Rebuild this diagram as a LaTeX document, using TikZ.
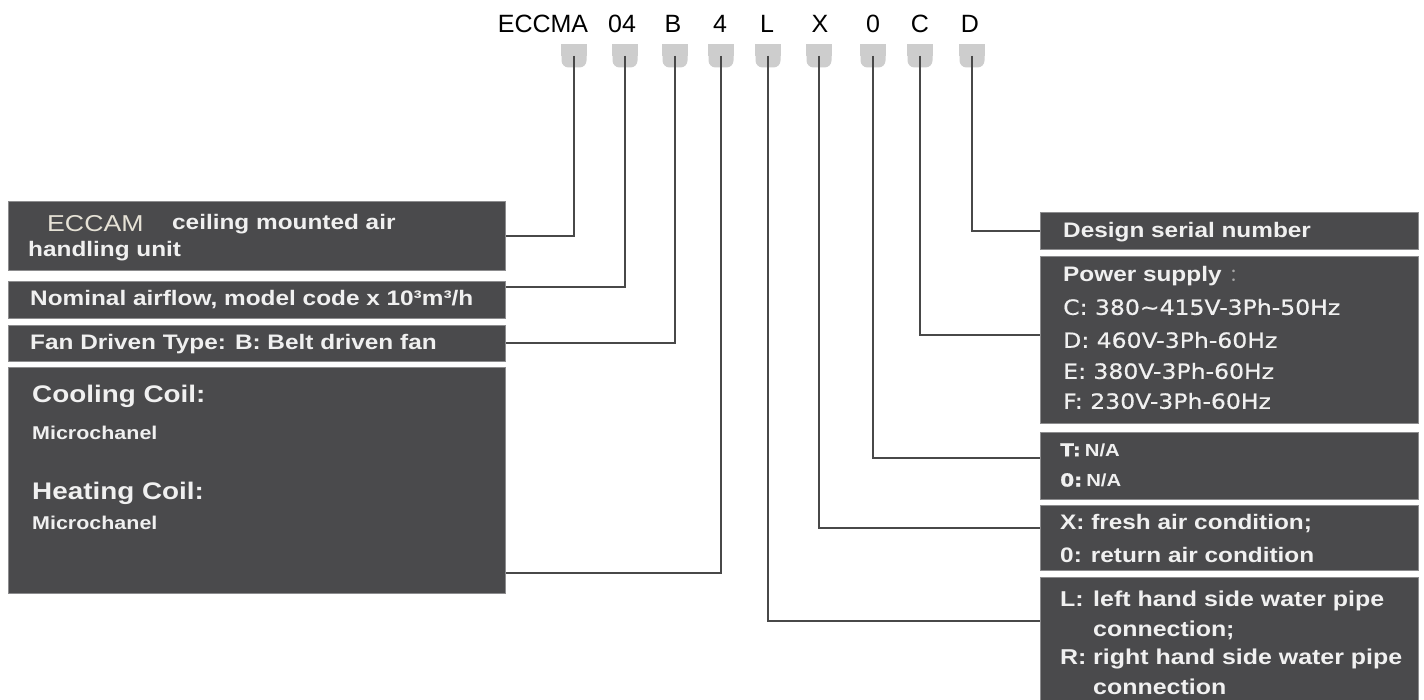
\documentclass[tikz,border=0pt]{standalone}
\usepackage{fontspec}
\setmainfont{Liberation Sans}
\newfontfamily\widefont{Liberation Sans}[FakeStretch=1.16]
\newfontfamily\vfont{DejaVu Sans}[FakeStretch=1.12, FakeBold=0.6]
\newfontfamily\cjkfont{Noto Sans CJK SC}
\definecolor{boxfill}{HTML}{4A4A4C}
\definecolor{boxedge}{HTML}{8C8C8E}
\definecolor{tabgray}{HTML}{CDCDCD}
\definecolor{wiregray}{HTML}{484848}
\definecolor{eccam}{HTML}{E6E2D6}

\tikzset{
  infobox/.style={draw=boxedge, line width=0.8pt, fill=boxfill, anchor=north west, inner sep=0pt},
  txt/.style={anchor=west, text=white!94!black, inner sep=0pt, font=\widefont\bfseries\fontsize{21}{24}\selectfont},
  tab/.style={fill=tabgray, minimum width=25, minimum height=23, inner sep=0pt, rounded corners=7pt},
  wire/.style={draw=wiregray, line width=2pt},
}

\begin{document}
\begin{tikzpicture}[x=1pt,y=-1pt]
  \useasboundingbox (0,0) rectangle (1424,700);

  % code letters and tabs
  \foreach \name/\position/\entry/\tabx in {cEccma/543/{ECCMA}/574,cFlow/622/{04}/625,cFan/673/{B}/675,cCoil/720/{4}/721,cPipe/767/{L}/768,cAir/820/{X}/819,cT/873/{0}/873,cPower/920/{C}/920,cSerial/970/{D}/972}{
    \node[font=\fontsize{25}{28}\selectfont, inner sep=0pt] (\name) at (\position,24) {\entry};
    \node[tab] (t\name) at (\tabx,56) {};
    \fill[tabgray] (t\name.north west) rectangle (t\name.east);
  }

  % left boxes
  \node[infobox, minimum width=497, minimum height=69] (bUnit) at (8,201) {};
  \node[infobox, minimum width=497, minimum height=37] (bFlow) at (8,281) {};
  \node[infobox, minimum width=497, minimum height=36] (bFan) at (8,325) {};
  \node[infobox, minimum width=497, minimum height=226] (bCoil) at (8,367) {};

  \node[txt, font=\widefont\fontsize{23}{26}\selectfont, text=eccam] (lEccam) at (47,224) {ECCAM};
  \node[txt] (lCeiling) at (172,224) {ceiling mounted air};
  \node[txt] (lHandling) at (28,251) {handling unit};
  \node[txt] (lFlow) at (30,300) {Nominal airflow, model code x 10³m³/h};
  \node[txt] (lFan) at (30,344) {Fan Driven Type: B: Belt driven fan};
  \node[txt, font=\widefont\bfseries\fontsize{24}{28}\selectfont] (lCool) at (32,396) {Cooling Coil:};
  \node[txt, font=\widefont\bfseries\fontsize{18.5}{20}\selectfont] (lCoolType) at (32,433) {Microchanel};
  \node[txt, font=\widefont\bfseries\fontsize{24}{28}\selectfont] (lHeat) at (32,493) {Heating Coil:};
  \node[txt, font=\widefont\bfseries\fontsize{18.5}{20}\selectfont] (lHeatType) at (32,523) {Microchanel};

  % right boxes
  \node[infobox, minimum width=378, minimum height=37] (bSerial) at (1040,212) {};
  \node[infobox, minimum width=378, minimum height=167] (bPower) at (1040,256) {};
  \node[infobox, minimum width=378, minimum height=67] (bT) at (1040,432) {};
  \node[infobox, minimum width=378, minimum height=65] (bAir) at (1040,505) {};
  \node[infobox, minimum width=378, minimum height=125] (bPipe) at (1040,577) {};

  \node[txt] (lSerial) at (1063,232) {Design serial number};
  \node[txt] (lPower) at (1063,276) {Power supply\,{\cjkfont\mdseries\fontsize{18}{20}\selectfont\color{gray!70}\hspace{4pt}：}};
  \foreach \name/\position/\entry in {lC/307/{C: 380\textasciitilde415V-3Ph-50Hz},lD/340/{D: 460V-3Ph-60Hz},lE/371/{E: 380V-3Ph-60Hz},lF/401/{F: 230V-3Ph-60Hz}}
    \node[txt, font=\vfont\fontsize{21}{24}\selectfont] (\name) at (1063,\position) {\entry};
  \node[txt, font=\vfont\bfseries\fontsize{18}{22}\selectfont] (lTT) at (1060,450) {T:\hspace{4pt}{\widefont\fontsize{17.5}{18}\selectfont N/A}};
  \node[txt, font=\vfont\bfseries\fontsize{18}{22}\selectfont] (lTZ) at (1060,480) {0:\hspace{4pt}{\widefont\fontsize{17.5}{18}\selectfont N/A}};
  \node[txt] (lAirX) at (1060,524) {X: fresh air condition;};
  \node[txt] (lAirZ) at (1060,555) {0: return air condition};
  \foreach \name/\position/\entry in {lPipeL/601/{\makebox[33pt][l]{L:}left hand side water pipe},lPipeLc/630/{\hspace*{33pt}connection;},lPipeR/659/{\makebox[33pt][l]{R:}right hand side water pipe},lPipeRc/687/{\hspace*{33pt}connection}}
    \node[txt, font=\widefont\bfseries\fontsize{21.5}{26}\selectfont] (\name) at (1060,\position) {\entry};

  % connectors
  \draw[wire] (tcEccma.center) |- (bUnit.east);
  \draw[wire] (tcFlow.center) |- ([yshift=12.5pt]bFlow.east);
  \draw[wire] (tcFan.center) |- (bFan.east);
  \draw[wire] (tcCoil.center) |- ([yshift=21pt]bCoil.south east);
  \draw[wire] (tcPipe.center) |- ([yshift=19pt]bPipe.west);
  \draw[wire] (tcAir.center) |- ([yshift=9.5pt]bAir.west);
  \draw[wire] (tcT.center) |- ([yshift=7.5pt]bT.west);
  \draw[wire] (tcPower.center) |- ([yshift=5pt]bPower.west);
  \draw[wire] (tcSerial.center) |- (bSerial.west);
\end{tikzpicture}
\end{document}
